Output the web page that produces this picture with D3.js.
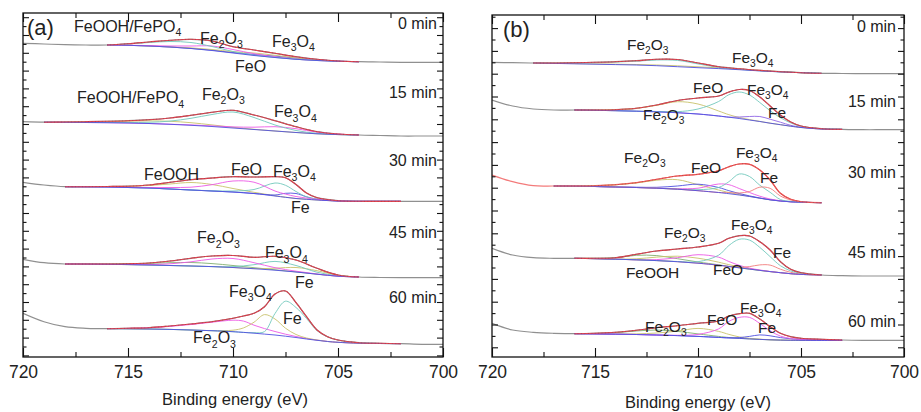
<!DOCTYPE html>
<html><head><meta charset="utf-8">
<script src="https://cdn.jsdelivr.net/npm/d3@7"></script>
<style>body{margin:0;background:#fff}svg{display:block;font-family:"Liberation Sans",Arial,Helvetica,sans-serif}</style>
</head><body><svg id="c" width="921" height="412"></svg>
<script>
// ---------- Panel (a) ----------
// 0 min
const a0_E   = [716,715,714,713,712,711,710,709,708,707,706,705,704];
const a0_fit = [312,313.3,315,316.7,317.7,316,310.3,307,303.7,300.3,297.7,296,295.3];
const a0_bg  = [312,311.7,311,310,308.5,306.5,304,301.5,299.5,297.7,296.5,295.7,295.3];
const a0_c1  = [0,1.4,3.5,5.5,6,4,1.5,0.4,0,0,0,0,0];
const a0_c2  = [0,0.1,0.4,1,2.5,4.5,3.5,1.8,0.6,0.1,0,0,0];
const a0_c3  = [0,0,0,0.1,0.6,1,1.3,2.5,2.2,1.3,0.5,0.1,0];
const a0_c4  = [0,0,0,0,0.1,0.3,0.5,1,1.4,1.2,0.7,0.2,0];
const a0_leftE = [720,719,718,717], a0_left = [313.7,313,312.3,312];
const a0_rightE = [703,702,701,700], a0_right = [295,294.7,294.7,294.7];
// 15 min
const a15_E   = [719,718,717,716,715,714,713,712,711,710,709,708,707,706,705,704];
const a15_fit = [234.8,235,235.3,235.7,236.3,237.3,239,241.7,244.7,246.7,242,236.3,230.3,225.3,223,222];
const a15_bg  = [234.8,234.7,234.5,234.3,234,233.5,232.7,231.7,230.5,229,227.5,226,224.5,223.2,222.4,222];
const a15_c1  = [0,0.3,0.7,1.2,1.8,2.6,3,2.6,1.6,0.7,0.2,0,0,0,0,0];
const a15_c2  = [0,0,0.1,0.2,0.5,1.2,3.2,7,12,16,12,6,2,0.5,0.1,0];
const a15_c3  = [0,0,0,0,0,0,0.1,0.4,0.6,1.1,2.3,4.3,3.8,1.6,0.5,0];
const a15_leftE = [720], a15_left = [235.3];
const a15_rightE = [703,702,701,700], a15_right = [221.5,221,221,221];
// 30 min
const a30_E   = [718,717,716,715,714,713,712,711,710,709,708,707.5,707,706.5,706,705,704,703,702];
const a30_fit = [170.3,170.3,170.5,170.8,172,174.7,177.3,179,180.3,180,180.3,179.3,172.5,164,159.3,156.3,155.7,155.7,155.7];
const a30_bg  = [170.3,170.2,170,169.5,169,168,167,166,165,163.5,161,159.7,158.5,157.7,157,156,155.7,155.7,155.7];
const a30_c1  = [0,0.1,0.4,1.1,2.5,5,7.5,6.5,3.5,1.2,0.3,0.1,0,0,0,0,0,0,0];
const a30_c2  = [0,0,0.1,0.2,0.5,1.5,2.8,6.3,11,11.3,5,3.2,2,1.2,0.6,0.1,0,0,0];
const a30_c3  = [0,0,0,0,0,0,0,0.2,1,4,13,12,7,2.5,1,0.2,0,0,0];
const a30_c4  = [0,0,0,0,0,0,0,0,0,0,1,4,5,2.5,0.7,0,0,0,0];
const a30_leftE = [720,719], a30_left = [174.7,172];
const a30_rightE = [701,700], a30_right = [155.7,155.7];
// 45 min
const a45_E   = [718,717,716,715,714,713,712,711,710,709,708,707,706,705,704];
const a45_fit = [93,93,93,93.3,94,96,98.7,101,101.5,99.7,100.7,97,88.7,82,80];
const a45_bg  = [93,92.9,92.7,92.4,92,91.5,91,90.4,89.5,88.3,86.8,85,82.8,80.8,80];
const a45_c1  = [0,0.1,0.3,0.8,1.6,2.8,3.5,3,2,1,0.4,0.1,0,0,0];
const a45_c2  = [0,0,0,0.1,0.4,1.7,4.2,7.6,9,6,2.5,0.8,0.2,0,0];
const a45_c3  = [0,0,0,0,0,0,0,0,0.8,4,8.8,6.5,2,0.4,0];
const a45_c4  = [0,0,0,0,0,0,0,0,0,0,2,4.5,3.5,0.8,0];
const a45_leftE = [720,719], a45_left = [97.7,94.3];
const a45_rightE = [703,702,701,700], a45_right = [79.5,79.3,79.3,79.3];
// 60 min
const a60_E   = [716,715,714,713,712,711,710,709.5,709,708.5,708,707.5,707,706.5,706,705.5,705,704,703,702];
const a60_fit = [28.3,28.7,29.3,31,33,35.3,38.7,41,43.7,50.3,63,66,54.3,40.3,27,20.3,17,14.3,13.7,13.3];
const a60_bg  = [28.3,28.2,28,27.6,27,26.3,25.3,24.6,23.8,22.9,22,20.8,19.5,18,16.7,15.5,14.7,13.8,13.5,13.3];
const a60_c1  = [0,0.4,1.2,3,5.5,8.5,11.5,11.3,8,5.5,3.5,2,1,0.5,0.2,0.1,0,0,0,0];
const a60_c2  = [0,0,0,0,0,0,1.5,4.5,11,19.5,16,8,3,1,0.3,0,0,0,0,0];
const a60_c3  = [0,0,0,0,0,0,0,0,0.5,2.5,21.5,35,30,20.5,9.8,4.7,2.2,0.5,0,0];
const a60_leftE = [720,719,718,717], a60_left = [43.7,35.3,30.3,28.7];
const a60_rightE = [701,700], a60_right = [12.7,12.7];

// ---------- Panel (b) ----------
// 0 min
const b0_E   = [718,717,716,715,714,713,712,711,710,709,708,707,706,705,704];
const b0_fit = [294,294,294.3,294.7,295.3,296.3,297.7,297.5,294,290.3,288.2,286.6,285.3,284.3,283.7];
const b0_bg  = [294,293.6,293.2,292.8,292.4,292,291.3,290.3,289.3,288.4,287.3,286.1,285.1,284.3,283.7];
const b0_c1  = [0,0.3,0.9,1.6,2.5,3.8,5.7,6.3,3.8,1.2,0.3,0.1,0,0,0];
const b0_c2  = [0,0.1,0.2,0.3,0.4,0.5,0.7,0.9,0.9,0.7,0.6,0.4,0.2,0,0];
const b0_leftE = [720,719], b0_left = [294.7,294.3];
const b0_rightE = [703,702,701,700], b0_right = [283.5,283.3,283.3,283.3];
// 15 min
const b15_E   = [716,715,714,713,712,711,710,709,708.5,708,707.5,707,706.5,706,705.5,705,704,703];
const b15_fit = [247,247,247.3,248.7,252,256.5,259,261,265,267.5,266.5,260,251,242,235,231,228.3,227.7];
const b15_bg  = [247,246.7,246.3,245.8,245.2,244.3,243,241,239.8,238.5,237,235.5,233.8,232.3,230.8,229.5,228,227.7];
const b15_c1  = [0,0.3,1,2.8,6.5,11,10,5,2.5,1,0.4,0.1,0,0,0,0,0,0];
const b15_c2  = [0,0,0,0,0.3,1,5,14.5,22.5,26.5,25,19,12.5,7,3.3,1.2,0.3,0];
const b15_c3  = [0,0,0,0,0,0,0,0,0,1.5,3.5,5,4,2.5,0.9,0.3,0,0];
const b15_leftE = [720,719,718,717], b15_left = [257,251,248,247];
const b15_rightE = [702,701,700], b15_right = [227.3,227.3,227.3];
// 30 min
const b30_E   = [717,716,715,714,713,712,711,710,709,708.5,708,707.5,707,706.5,706,705.5,705,704];
const b30_fit = [171,171,171.3,172.3,174.3,177.7,181,182.7,186.3,190.3,193,192.7,187,177,163.7,157.7,155.3,154.3];
const b30_bg  = [171,170.8,170.5,170,169.5,168.8,167.8,166.3,164.5,163.3,162,160.5,158.8,157.2,156,155.2,154.8,154.3];
const b30_c1  = [0,0.2,0.8,2.2,4.5,8,9.5,6,2.5,1.2,0.5,0.2,0,0,0,0,0,0];
const b30_c2  = [0,0,0,0,0.3,0.9,3.2,6.5,5,3,1.5,0.6,0.2,0,0,0,0,0];
const b30_c3  = [0,0,0,0,0,0,0.5,2.5,8.5,9,6.5,4,2,0.8,0.3,0,0,0];
const b30_c4  = [0,0,0,0,0,0,0,1,5,12,21,20,13,7.5,1.5,0.4,0,0];
const b30_c5  = [0,0,0,0,0,0,0,0,0,1,2,5,11,11.5,5,1.8,0.4,0];
const b30_leftE = [720,719,718], b30_left = [182,175.3,171.3];
const b30_rightE = [], b30_right = [];
// 45 min
const b45_E   = [716,715,714,713,712,711,710,709,708.5,708,707.5,707,706.5,706,705.5,705,704];
const b45_fit = [98.7,98.7,99.3,102.7,106,108,110,113.7,118.7,121.3,121,115.3,107,95.3,87.7,84.3,82];
const b45_bg  = [98.7,98.3,97.8,97.2,96.4,95.3,93.8,91.8,90.5,89.2,87.9,86.6,85.4,84.3,83.3,82.6,82];
const b45_c1  = [0,0.4,1.4,4.5,5,3,1.2,0.4,0.1,0,0,0,0,0,0,0,0];
const b45_c2  = [0,0,0.1,1,3.5,5.5,5,3,1.8,1,0.4,0.1,0,0,0,0,0];
const b45_c3  = [0,0,0,0,1,4,8.5,8,5,2.5,1,0.4,0.1,0,0,0,0];
const b45_c4  = [0,0,0,0,0,0.2,1.5,10,21,28.5,29,23,15,7,2.8,1.2,0];
const b45_c5  = [0,0,0,0,0,0,0,0,0,0.5,2.5,5.5,6.5,3.5,1.4,0.4,0];
const b45_leftE = [720,719,718,717], b45_left = [108.7,102,99.3,98.7];
const b45_rightE = [703,702,701,700], b45_right = [81.3,81,81,81];
// 60 min
const b60_E   = [716,715,714,713,712,711,710,709,708.5,708,707.5,707,706.5,706,705.5,705,704,703];
const b60_fit = [23.3,23.7,24.7,26.7,29.3,31.3,33.7,36,41,43.3,43.7,38,30.3,23.7,20.3,18.7,17.7,17];
const b60_bg  = [23.3,23.1,22.8,22.5,22,21.4,20.6,19.6,19.1,18.6,18.1,17.6,17.2,16.9,16.7,16.6,16.5,16.5];
const b60_c1  = [0,0.5,1.6,3.5,5,4.2,2.5,1,0.4,0.1,0,0,0,0,0,0,0,0];
const b60_c2  = [0,0,0.2,0.6,2,4.5,8,6,3.5,1.5,0.5,0.2,0,0,0,0,0,0];
const b60_c3  = [0,0,0,0,0,0.3,2,8.5,16.5,21,21.5,16,9,4,1.8,0.8,0.3,0];
const b60_c4  = [0,0,0,0,0,0,0,0,0,0.8,2.5,4.5,4,2.5,1.5,1,0.7,0.3];
const b60_leftE = [720,719,718,717], b60_left = [33.7,27,24.7,23.7];
const b60_rightE = [702,701,700], b60_right = [16.7,16.7,16.7];

// axis
const xMajor = [720,715,710,705,700];
const xMinor = [717.5,712.5,707.5,702.5];
const timeLabels = ['0 min','15 min','30 min','45 min','60 min'];

// ---------- styles ----------
const C = {gray:'#909090', red:'#e2404e', cyan:'#72c9bd', mag:'#ec5ae6', yel:'#c9c26c', grn:'#82b070',
           blue:'#5050e0', sal:'#f27d7d', pur:'#9066e6', text:'#222'};

function spec(E,fit,bg,comps,lE,l,rE,r,rawCol,fitCol){
  return {E,fit,bg,comps,lE,l,rE,r,rawCol:rawCol||C.gray,fitCol:fitCol||C.red};
}

const panels = [
 {x0:23,x1:443,y0:13,y1:357,ymax:344,tag:'(a)',tagX:27,tagY:35,fs:16,
  yTick0:1.6, yStep:8.9, titleX:235, titleY:405, timeX:437,
  spectra:[
   spec(a0_E,a0_fit,a0_bg,[[a0_c4,C.blue],[a0_c3,C.yel],[a0_c2,C.mag],[a0_c1,C.cyan]],a0_leftE,a0_left,a0_rightE,a0_right),
   spec(a15_E,a15_fit,a15_bg,[[a15_c1,C.yel],[a15_c3,C.mag],[a15_c2,C.cyan]],a15_leftE,a15_left,a15_rightE,a15_right),
   spec(a30_E,a30_fit,a30_bg,[[a30_c1,C.yel],[a30_c4,C.blue],[a30_c3,C.cyan],[a30_c2,C.mag]],a30_leftE,a30_left,a30_rightE,a30_right),
   spec(a45_E,a45_fit,a45_bg,[[a45_c1,C.grn],[a45_c4,C.yel],[a45_c3,C.cyan],[a45_c2,C.mag]],a45_leftE,a45_left,a45_rightE,a45_right),
   spec(a60_E,a60_fit,a60_bg,[[a60_c1,C.mag],[a60_c2,C.yel],[a60_c3,C.cyan]],a60_leftE,a60_left,a60_rightE,a60_right)
  ],
  times:[328,258.7,191.3,118.7,53.7],
  labels:[['FeOOH/FePO_4',717.57,325],['Fe_2O_3',711.57,313.5],['Fe_3O_4',708.14,310.3],['FeO',709.9,285.3],
          ['FeOOH/FePO_4',717.43,253.7],['Fe_2O_3',711.48,257],['Fe_3O_4',708.05,239.7],
          ['FeOOH',714.24,177],['FeO',710.1,182],['Fe_3O_4',708.1,180.3],['Fe',707.24,143.7],
          ['Fe_2O_3',711.71,113.7],['Fe_3O_4',708.48,98.7],['Fe',707.05,68.7],
          ['Fe_3O_4',710.19,60.3],['Fe',707.62,32.7],['Fe_2O_3',711.9,13.7]]
 },
 {x0:492,x1:904,y0:15,y1:357,ymax:342,tag:'(b)',tagX:503,tagY:36.7,fs:15.5,
  yTick0:9.7, yStep:11.4, titleX:698, titleY:408, timeX:896,
  spectra:[
   spec(b0_E,b0_fit,b0_bg,[[b0_c2,C.yel],[b0_c1,C.cyan]],b0_leftE,b0_left,b0_rightE,b0_right),
   spec(b15_E,b15_fit,b15_bg,[[b15_c1,C.yel],[b15_c3,C.pur],[b15_c2,C.cyan]],b15_leftE,b15_left,b15_rightE,b15_right),
   spec(b30_E,b30_fit,b30_bg,[[b30_c1,C.yel],[b30_c2,C.blue],[b30_c3,C.mag],[b30_c4,C.cyan],[b30_c5,C.sal]],b30_leftE,b30_left,b30_rightE,b30_right,'#f37b7b','#ef5252'),
   spec(b45_E,b45_fit,b45_bg,[[b45_c1,C.grn],[b45_c2,C.yel],[b45_c3,C.mag],[b45_c5,C.sal],[b45_c4,C.cyan]],b45_leftE,b45_left,b45_rightE,b45_right),
   spec(b60_E,b60_fit,b60_bg,[[b60_c1,C.grn],[b60_c2,C.yel],[b60_c4,C.blue],[b60_c3,C.mag]],b60_leftE,b60_left,b60_rightE,b60_right)
  ],
  times:[325.3,250.3,178.7,98.7,30.3],
  labels:[['Fe_2O_3',713.45,307],['Fe_3O_4',708.35,293.7],
          ['FeO',710.24,263.7],['Fe_3O_4',707.62,262],['Fe',706.6,238.7],['Fe_2O_3',712.67,237],
          ['Fe_2O_3',713.59,193.7],['Fe_3O_4',708.16,198.7],['FeO',710.34,183.7],['Fe',706.99,173.7],
          ['Fe_2O_3',711.65,118.7],['Fe_3O_4',708.4,127],['Fe',706.36,98.7],['FeOOH',713.5,78.7],['FeO',709.27,82],
          ['Fe_3O_4',707.96,43.7],['FeO',709.56,32],['Fe_2O_3',712.57,25.3],['Fe',707.09,23.7]]
 }
];

const svg = d3.select('#c');
svg.append('rect').attr('width',921).attr('height',412).attr('fill','#fff');

function addLabel(g, txt, px, py, size, anchor){
  const t = g.append('text').attr('x',px).attr('y',py).attr('font-size',size)
    .attr('text-anchor',anchor||'start').attr('fill',C.text);
  const parts = txt.split(/(_\d)/).filter(s=>s.length);
  let sub=false; const sh=size*0.27;
  parts.forEach(s=>{
    if(s[0]==='_'){ t.append('tspan').attr('font-size',size*0.66).attr('dy',sh).text(s.slice(1)); sub=true; }
    else { const ts=t.append('tspan').text(s); if(sub){ ts.attr('dy',-sh); sub=false; } }
  });
}

panels.forEach((p,pi)=>{
  const x = d3.scaleLinear().domain([720,700]).range([p.x0,p.x1]);
  const y = d3.scaleLinear().domain([0,p.ymax]).range([p.y1,p.y0]);
  const g = svg.append('g');
  const clipId='clip'+pi;
  svg.append('clipPath').attr('id',clipId).append('rect')
     .attr('x',p.x0).attr('y',p.y0).attr('width',p.x1-p.x0).attr('height',p.y1-p.y0);
  const plot = g.append('g').attr('clip-path',`url(#${clipId})`);
  const line = d3.line().x(d=>x(d[0])).y(d=>y(d[1])).curve(d3.curveCatmullRom.alpha(0.5));

  p.spectra.forEach(s=>{
    const raw = s.lE.map((e,i)=>[e,s.l[i]])
      .concat(s.E.map((e,i)=>[e,s.fit[i]]))
      .concat(s.rE.map((e,i)=>[e,s.r[i]]));
    plot.append('path').attr('d',line(raw)).attr('fill','none').attr('stroke',s.rawCol).attr('stroke-width',1.2);
    s.comps.forEach(([h,col])=>{
      const pts = s.E.map((e,i)=>[e,s.bg[i]+h[i]]);
      plot.append('path').attr('d',line(pts)).attr('fill','none').attr('stroke',col).attr('stroke-width',1).attr('opacity',0.9);
    });
    plot.append('path').attr('d',line(s.E.map((e,i)=>[e,s.bg[i]]))).attr('fill','none').attr('stroke',C.blue).attr('stroke-width',0.9);
    const fitPts = s.E.map((e,i)=>[e,s.fit[i]]);
    plot.append('path').attr('d',line(fitPts)).attr('fill','none').attr('stroke',s.fitCol).attr('stroke-width',1.15);
    plot.append('path').attr('d',line(fitPts)).attr('fill','none').attr('stroke','#5a4a4a')
        .attr('stroke-width',1).attr('stroke-dasharray','0.8 2.6').attr('opacity',0.45);
  });

  // frame
  g.append('rect').attr('x',p.x0).attr('y',p.y0).attr('width',p.x1-p.x0).attr('height',p.y1-p.y0)
   .attr('fill','none').attr('stroke','#111').attr('stroke-width',1.3);

  const styleAxis = sel => { sel.select('.domain').remove(); sel.selectAll('line').attr('stroke','#111').attr('stroke-width',1.1); };
  g.append('g').attr('transform',`translate(0,${p.y1})`)
    .call(d3.axisBottom(x).tickValues(xMajor).tickSize(-9).tickPadding(8.6).tickFormat(d3.format('d')))
    .call(styleAxis)
    .call(a=>a.selectAll('text').attr('font-size',17.5).attr('fill',C.text).attr('font-family','"Liberation Sans",Arial,sans-serif'));
  g.append('g').attr('transform',`translate(0,${p.y1})`)
    .call(d3.axisBottom(x).tickValues(xMinor).tickSize(-5).tickFormat('')).call(styleAxis);
  g.append('g').attr('transform',`translate(0,${p.y0})`)
    .call(d3.axisTop(x).tickValues(xMajor).tickSize(-9).tickFormat('')).call(styleAxis);
  g.append('g').attr('transform',`translate(0,${p.y0})`)
    .call(d3.axisTop(x).tickValues(xMinor).tickSize(-5).tickFormat('')).call(styleAxis);

  const yt = d3.range(p.yTick0, p.ymax, p.yStep);
  const yMaj = yt.filter((d,i)=>i%2===0), yMin = yt.filter((d,i)=>i%2===1);
  [[d3.axisLeft,p.x0],[d3.axisRight,p.x1]].forEach(([ax,pos])=>{
    g.append('g').attr('transform',`translate(${pos},0)`)
      .call(ax(y).tickValues(yMaj).tickSize(-6).tickFormat('')).call(styleAxis);
    g.append('g').attr('transform',`translate(${pos},0)`)
      .call(ax(y).tickValues(yMin).tickSize(-3.5).tickFormat('')).call(styleAxis);
  });

  // labels
  p.labels.forEach(([t,e,v])=>addLabel(g,t,x(e),y(v),p.fs));
  p.times.forEach((v,i)=>addLabel(g,timeLabels[i],p.timeX,y(v),16,'end'));
  addLabel(g,p.tag,p.tagX,p.tagY,22);
  g.append('text').attr('x',p.titleX).attr('y',p.titleY).attr('text-anchor','middle')
    .attr('font-size',16.5).attr('fill',C.text).text('Binding energy (eV)');
});
</script></body></html>
